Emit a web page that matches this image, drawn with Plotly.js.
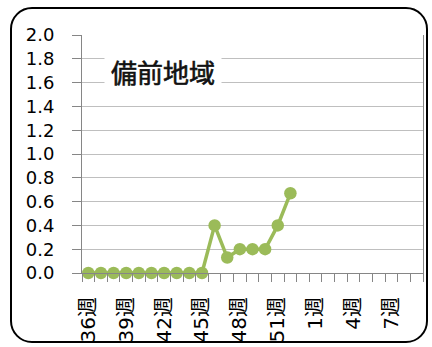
<!DOCTYPE html>
<html>
<head>
<meta charset="utf-8">
<script src="https://cdn.plot.ly/plotly-3.0.1.min.js"></script>
<style>
html,body{margin:0;padding:0;background:#fff;}
#chart{position:absolute;left:0;top:0;width:432px;height:347px;}
#frame{position:absolute;left:10px;top:7px;width:414px;height:332px;border:2px solid #000;border-radius:22px;pointer-events:none;}
#chart .annotation-text{stroke:#111;stroke-width:0.6px;}
</style>
</head>
<body>
<div id="chart"></div>
<div id="frame"></div>
<script>
const weeks = ["36週","37週","38週","39週","40週","41週","42週","43週","44週","45週","46週","47週","48週","49週","50週","51週","52週","53週","1週","2週","3週","4週","5週","6週","7週","8週","9週"];
const values = [0,0,0,0,0,0,0,0,0,0,0.4,0.13,0.2,0.2,0.2,0.4,0.67];
const labelWeeks = ["36週","39週","42週","45週","48週","51週","1週","4週","7週"];
const regionTitle = "備前地域";

const xIdx = values.map((v,i)=>i);
const tickIdx = labelWeeks.map(w=>weeks.indexOf(w));
const font = "DejaVu Sans, Noto Sans CJK JP, sans-serif";

const trace = {
  x: xIdx, y: values, type:'scatter', mode:'lines+markers',
  line:{color:'#9bbb59', width:3.5},
  marker:{color:'#9bbb59', size:12.5},
  cliponaxis:false, hoverinfo:'skip'
};
const layout = {
  width:432, height:347,
  margin:{l:82, r:9, t:35, b:74, pad:0},
  paper_bgcolor:'rgba(0,0,0,0)', plot_bgcolor:'#fff',
  showlegend:false,
  font:{family:font, size:18, color:'#000'},
  xaxis:{
    range:[-0.5, weeks.length-0.5], fixedrange:true,
    tickmode:'array', tickvals:tickIdx, ticktext:labelWeeks, tickangle:-90,
    ticks:'outside', ticklen:8, tickcolor:'rgba(0,0,0,0)',
    ticklabelstandoff:7,
    tickfont:{family:font, size:20, color:'#000'},
    showgrid:false, zeroline:false,
    showline:true, linecolor:'#868686', linewidth:1,
    minor:{tickmode:'linear', tick0:-0.5, dtick:1, ticks:'outside', ticklen:8, tickcolor:'#868686', tickwidth:1, showgrid:false}
  },
  yaxis:{
    range:[0,2.0], fixedrange:true,
    tickmode:'linear', tick0:0, dtick:0.2, tickformat:'.1f',
    ticks:'outside', ticklen:9, tickcolor:'#868686',
    ticklabelstandoff:14,
    tickfont:{family:font, size:18, color:'#000'},
    showgrid:true, gridcolor:'#bfbfbf', gridwidth:1, zeroline:false,
    showline:true, linecolor:'#868686', linewidth:1, mirror:true
  },
  annotations:[{
    text:regionTitle, xref:'paper', yref:'paper', x:0.238, y:0.845,
    xanchor:'center', yanchor:'middle', showarrow:false,
    font:{family:'Noto Sans CJK JP, sans-serif', size:26, color:'#111'},
    bgcolor:'#fff', borderpad:6
  }]
};
Plotly.newPlot('chart',[trace],layout,{staticPlot:true, displayModeBar:false});
</script>
</body>
</html>
